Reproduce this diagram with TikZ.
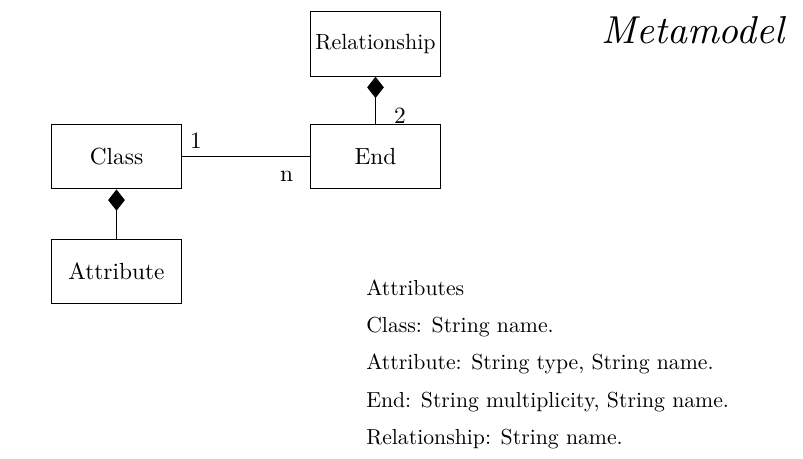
\documentclass[tikz,border=0pt]{standalone}
\usepackage{fontspec}
\setmainfont{lmroman10}[Extension=.otf, UprightFont=*-regular, ItalicFont=*-italic, BoldFont=*-bold]
\usetikzlibrary{arrows.meta}
\begin{document}
\begin{tikzpicture}[x=0.75pt,y=-0.75pt,
 box/.style={draw, line width=0.7pt, minimum width=97.8pt, minimum height=48.4pt, inner sep=0pt, font=\fontsize{17.5}{20}\selectfont},
 lbl/.style={font=\fontsize{17.5}{20}\selectfont, inner sep=0pt},
 attr/.style={anchor=base west, inner sep=0pt, font=\fontsize{16.3}{19}\selectfont},
 conn/.style={line width=0.7pt},
 comp/.style={conn, -{Diamond[length=16pt,width=12.5pt]}}]
\useasboundingbox (0,0) rectangle (803,459);
\node[box] (rel) at (375.5,44) {\fontsize{16.5}{19}\selectfont Relationship};
\node[box] (cls) at (116.5,156.7) {Class};
\node[box] (end) at (375.5,156.7) {End};
\node[box] (att) at (116.5,271.5) {Attribute};
\draw[conn] (cls) -- (end);
\draw[comp] (end) -- (rel);
\draw[comp] (att) -- (cls);
\node[lbl] (m1) at (196,140.5) {1};
\node[lbl] (mn) at (286.5,176) {n};
\node[lbl] (m2) at (400,116) {2};
\node[anchor=base, inner sep=0pt, font=\fontsize{29.2}{33}\selectfont\itshape] (title) at (693,44) {Metamodel};
\node[attr] (a0) at (366,296) {Attributes};
\node[attr] (a1) at (366,333) {Class: String name.};
\node[attr] (a2) at (366,370) {Attribute: String type, String name.};
\node[attr] (a3) at (366,407) {End: String multiplicity, String name.};
\node[attr] (a4) at (366,444) {Relationship: String name.};
\end{tikzpicture}
\end{document}
